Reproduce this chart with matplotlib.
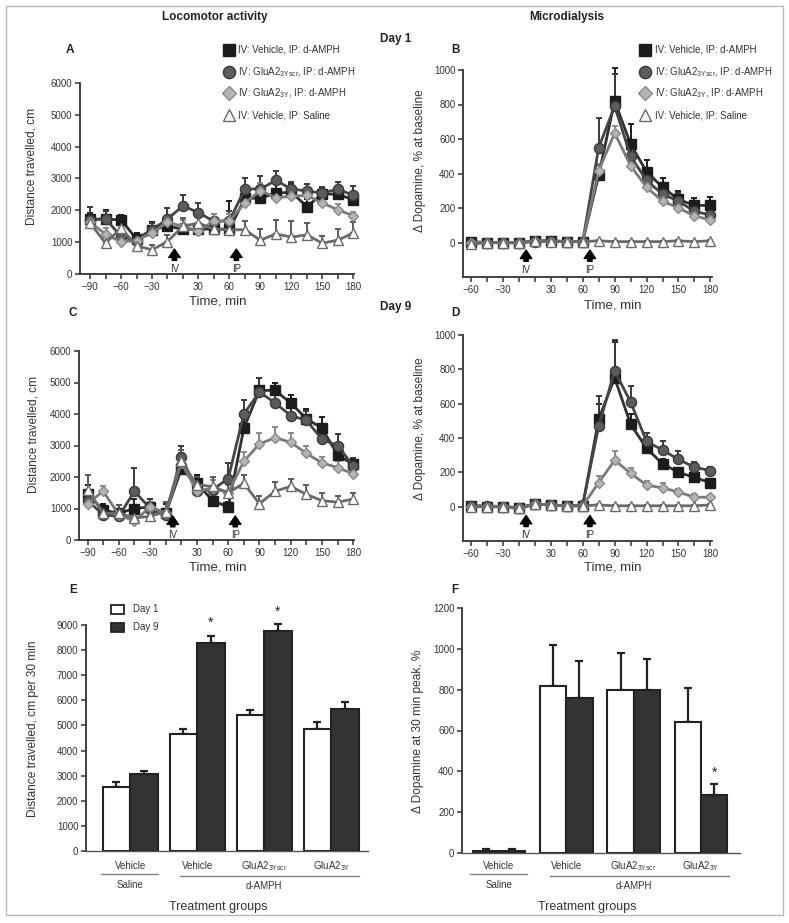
import matplotlib
matplotlib.use('Agg')
import matplotlib.pyplot as plt
import matplotlib.transforms as mtransforms
from matplotlib.patches import Rectangle
from matplotlib.lines import Line2D

plt.rcParams['font.family'] = ['Liberation Sans', 'DejaVu Sans']
plt.rcParams['mathtext.fontset'] = 'custom'
plt.rcParams['mathtext.rm'] = 'Liberation Sans'
plt.rcParams['mathtext.it'] = 'Liberation Sans'

# ---------------- data ----------------
times_loco = [-90, -75, -60, -45, -30, -15, 15, 30, 45, 60, 75, 90, 105, 120, 135, 150, 165, 180]
times_dial = [-60, -45, -30, -15, 15, 30, 45, 60, 75, 90, 105, 120, 135, 150, 165, 180]
loco_ticklabels = [-90, -60, -30, 30, 60, 90, 120, 150, 180]
dial_ticklabels = [-60, -30, 30, 60, 90, 120, 150, 180]

series_labels = ['IV: Vehicle, IP: d-AMPH',
                 r'IV: GluA2$_{\mathregular{3Yscr}}$, IP: d-AMPH',
                 r'IV: GluA2$_{\mathregular{3Y}}$, IP: d-AMPH',
                 'IV: Vehicle, IP: Saline']

# Panel A (Day 1 locomotion)
a_veh = [1725, 1725, 1700, 1100, 1390, 1500, 1410, 1400, 1420, 1400, 2380, 2380, 2540, 2570, 2120, 2510, 2510, 2330]
a_veh_err = [200, 300, 150, 200, 230, 250, 150, 200, 350, 900, 300, 300, 300, 250, 250, 200, 200, 200]
a_scr = [1700, 1735, 1180, 1050, 1390, 1725, 2140, 1930, 1650, 1670, 2670, 2670, 2940, 2670, 2610, 2540, 2670, 2470]
a_scr_err = [400, 250, 200, 150, 200, 350, 350, 300, 250, 300, 360, 420, 280, 230, 220, 200, 230, 280]
a_3y = [1630, 1250, 1010, 1050, 1290, 1620, 1500, 1340, 1670, 1670, 2230, 2620, 2400, 2440, 2470, 2230, 2020, 1830]
a_3y_err = [150, 200, 150, 100, 150, 200, 200, 150, 200, 200, 200, 250, 200, 150, 150, 150, 180, 120]
a_sal = [1600, 970, 1440, 890, 760, 1020, 1500, 1600, 1410, 1390, 1390, 1060, 1260, 1160, 1230, 970, 1060, 1290]
a_sal_err = [200, 200, 150, 150, 150, 200, 250, 200, 200, 300, 260, 350, 440, 490, 370, 230, 350, 330]

# Panel B (Day 1 dopamine)
b_veh = [5, 0, 0, 0, 10, 10, 5, 5, 390, 820, 570, 410, 320, 250, 215, 215]
b_veh_err = [5, 5, 5, 5, 5, 5, 5, 5, 60, 190, 115, 70, 55, 50, 45, 50]
b_scr = [0, 0, 0, 0, 5, 10, 5, 5, 550, 790, 500, 360, 280, 240, 180, 160]
b_scr_err = [5, 5, 5, 5, 5, 5, 5, 5, 170, 185, 80, 60, 50, 45, 40, 40]
b_3y = [0, 0, 0, 0, 10, 5, 5, 5, 415, 635, 445, 320, 240, 200, 155, 130]
b_3y_err = [5, 5, 5, 5, 5, 5, 5, 5, 40, 40, 40, 30, 25, 20, 20, 20]
b_sal = [-10, 0, 0, -5, 10, 5, 5, 5, 10, 5, 5, 5, 5, 10, 5, 10]
b_sal_err = [5] * 16

# Panel C (Day 9 locomotion)
c_veh = [1450, 950, 850, 1000, 1050, 850, 2250, 1800, 1250, 1050, 3550, 4750, 4750, 4350, 3850, 3550, 2700, 2400]
c_veh_err = [300, 200, 250, 300, 250, 300, 600, 250, 200, 150, 400, 400, 250, 250, 300, 350, 300, 200]
c_scr = [1250, 800, 750, 1550, 1000, 800, 2650, 1550, 1600, 1950, 4000, 4700, 4350, 3950, 3800, 3200, 3000, 2350]
c_scr_err = [250, 150, 200, 730, 300, 200, 350, 300, 300, 500, 450, 450, 250, 250, 300, 250, 350, 250]
c_3y = [1150, 1550, 800, 600, 1050, 850, 2450, 1550, 1650, 1500, 2500, 3050, 3250, 3100, 2750, 2450, 2300, 2100]
c_3y_err = [150, 150, 150, 150, 150, 150, 300, 250, 250, 250, 300, 350, 350, 300, 250, 200, 200, 150]
c_sal = [1600, 850, 850, 700, 750, 900, 2500, 1750, 1700, 1500, 1800, 1150, 1550, 1700, 1450, 1250, 1200, 1300]
c_sal_err = [450, 200, 250, 200, 200, 300, 350, 250, 300, 300, 250, 250, 300, 250, 300, 250, 200, 200]

# Panel D (Day 9 dopamine)
d_veh = [5, 0, 0, -5, 15, 10, 5, 5, 510, 750, 480, 340, 250, 200, 170, 140]
d_veh_err = [5, 5, 5, 5, 5, 5, 5, 5, 90, 210, 60, 40, 30, 25, 20, 20]
d_scr = [5, 5, 0, -10, 15, 10, 5, 10, 470, 790, 610, 380, 330, 275, 230, 210]
d_scr_err = [5, 5, 5, 5, 5, 5, 5, 5, 175, 180, 90, 50, 50, 50, 30, 20]
d_3y = [0, 0, 0, -10, 15, 10, 5, 5, 140, 270, 195, 125, 110, 85, 55, 55]
d_3y_err = [5, 5, 5, 5, 5, 5, 5, 5, 40, 55, 30, 25, 30, 15, 20, 15]
d_sal = [0, 0, 0, -10, 15, 10, 5, 5, 10, 5, 5, 5, 5, 5, 5, 10]
d_sal_err = [5] * 16

# Panels E, F
group_labels = ['Vehicle', 'Vehicle', r'GluA2$_{\mathregular{3Yscr}}$', r'GluA2$_{\mathregular{3Y}}$']
day_labels = ['Day 1', 'Day 9']
e_day1 = [2550, 4650, 5400, 4850]
e_day1_err = [180, 200, 200, 280]
e_day9 = [3050, 8300, 8750, 5650]
e_day9_err = [150, 250, 300, 280]
f_day1 = [12, 820, 800, 640]
f_day1_err = [6, 200, 180, 170]
f_day9 = [12, 760, 800, 285]
f_day9_err = [6, 180, 150, 55]

# ---------------- styles ----------------
styles = [
    dict(marker='s', mfc='#1c1c1c', mec='#1c1c1c', ms=6.8, color='#303030'),
    dict(marker='o', mfc='#5c5c5c', mec='#3a3a3a', ms=7.3, color='#454545'),
    dict(marker='D', mfc='#b4b4b4', mec='#8a8a8a', ms=5.4, color='#7a7a7a'),
    dict(marker='^', mfc='white', mec='#6a6a6a', ms=7.8, color='#6a6a6a'),
]
ecolors = ['#1c1c1c', '#3a3a3a', '#8a8a8a', '#5a5a5a']

W, H = 789, 923
fig = plt.figure(figsize=(W / 100, H / 100), dpi=100)


def rect(l, t, r, b):
    return [l / W, 1 - b / H, (r - l) / W, (b - t) / H]


def ftext(x, y, s, **kw):
    fig.text(x / W, 1 - y / H, s, **kw)


def style_axes(ax):
    for s in ['top', 'right']:
        ax.spines[s].set_visible(False)
    for s in ['left', 'bottom']:
        ax.spines[s].set_color('#333333')
        ax.spines[s].set_linewidth(1.3)
    ax.tick_params(direction='out', length=3.5, width=1.1, color='#333333',
                   labelsize=7, labelcolor='#333333', pad=2)


def line_panel(ax, times, ticklabels, data, errs, ylim, yticks, arrow_y):
    xs = list(range(len(times)))
    order = [3, 2, 0, 1]
    for k in order:
        ax.errorbar(xs, data[k], yerr=[[0] * len(xs), errs[k]], fmt='none',
                    ecolor=ecolors[k], elinewidth=1.4, capsize=2.5, capthick=1.4,
                    zorder=2 + k * 0.1, clip_on=False)
    for k in order:
        st = styles[k]
        ax.plot(xs, data[k], color=st['color'], lw=2.0, marker=st['marker'],
                mfc=st['mfc'], mec=st['mec'], ms=st['ms'], mew=1.0,
                zorder=3 + k * 0.1, clip_on=False)
    ax.set_ylim(*ylim)
    ax.set_yticks(yticks)
    ax.set_xticks(xs)
    ax.set_xticklabels([(str(t).replace('-', '\u2212') if t in ticklabels else '') for t in times])
    style_axes(ax)
    # arrows IV and IP
    iv_x = times.index(-15) + 0.45
    ip_x = times.index(60) + 0.45
    tip, tail, lab = arrow_y
    for xx, name in [(iv_x, 'IV'), (ip_x, 'IP')]:
        ax.annotate('', xy=(xx, tip), xytext=(xx, tail),
                    arrowprops=dict(arrowstyle='simple,head_length=0.55,head_width=0.75,tail_width=0.28',
                                    fc='black', ec='black', mutation_scale=11), zorder=6)
        ax.text(xx, lab, name, ha='center', va='center', fontsize=7, color='#333333')


# ---- Panel A
axA = fig.add_axes(rect(80, 83, 354, 274))
axA.set_xlim(-0.65, 17.05)
line_panel(axA, times_loco, loco_ticklabels, [a_veh, a_scr, a_3y, a_sal],
           [a_veh_err, a_scr_err, a_3y_err, a_sal_err], (0, 6000), range(0, 6001, 1000),
           (870, 340, 150))

# ---- Panel B
axB = fig.add_axes(rect(463, 70, 712, 277))
axB.set_xlim(-0.5, 15.1)
line_panel(axB, times_dial, dial_ticklabels, [b_veh, b_scr, b_3y, b_sal],
           [b_veh_err, b_scr_err, b_3y_err, b_sal_err], (-200, 1000), range(0, 1001, 200),
           (-28, -125, -162))

# ---- Panel C
axC = fig.add_axes(rect(79, 351, 354, 540))
axC.set_xlim(-0.55, 17.05)
line_panel(axC, times_loco, loco_ticklabels, [c_veh, c_scr, c_3y, c_sal],
           [c_veh_err, c_scr_err, c_3y_err, c_sal_err], (0, 6000), range(0, 6001, 1000),
           (850, 330, 150))

# ---- Panel D
axD = fig.add_axes(rect(463, 335, 712, 541))
axD.set_xlim(-0.5, 15.1)
line_panel(axD, times_dial, dial_ticklabels, [d_veh, d_scr, d_3y, d_sal],
           [d_veh_err, d_scr_err, d_3y_err, d_sal_err], (-200, 1000), range(0, 1001, 200),
           (-35, -132, -166))


# ---- Bar panels
def bar_panel(ax, day1, day1_err, day9, day9_err, ylim, yticks, width, day1_colors):
    xs = list(range(len(day1)))
    x1 = [x - width / 2 for x in xs]
    x9 = [x + width / 2 for x in xs]
    ax.errorbar(x1, day1, yerr=[[0] * len(xs), day1_err], fmt='none', ecolor='#222222',
                elinewidth=1.6, capsize=3, capthick=1.6, zorder=1, clip_on=False)
    ax.errorbar(x9, day9, yerr=[[0] * len(xs), day9_err], fmt='none', ecolor='#222222',
                elinewidth=1.6, capsize=3, capthick=1.6, zorder=1, clip_on=False)
    ax.bar(x1, day1, width=width, color=day1_colors, edgecolor='#222222', linewidth=1.5, zorder=2)
    ax.bar(x9, day9, width=width, color='#333333', edgecolor='#222222', linewidth=1.5, zorder=2)
    ax.set_ylim(*ylim)
    ax.set_yticks(yticks)
    ax.set_xticks([])
    style_axes(ax)
    ax.spines['bottom'].set_linewidth(1.0)
    ax.spines['bottom'].set_color('#555555')


axE = fig.add_axes(rect(86, 625, 368, 851))
axE.set_xlim(-0.66, 3.55)
bar_panel(axE, e_day1, e_day1_err, e_day9, e_day9_err, (0, 9000), range(0, 9001, 1000), 0.41,
          ['white'] * 4)
axE.text(1 + 0.205, 9080, '*', ha='center', va='center', fontsize=10, color='#222222')
axE.text(2 + 0.205, 9520, '*', ha='center', va='center', fontsize=10, color='#222222')

axF = fig.add_axes(rect(462, 608, 740, 853))
axF.set_xlim(-0.55, 3.58)
bar_panel(axF, f_day1, f_day1_err, f_day9, f_day9_err, (0, 1200), range(0, 1201, 200), 0.39,
          ['#808080', 'white', 'white', 'white'])
axF.text(3 + 0.195, 392, '*', ha='center', va='center', fontsize=10, color='#222222')

for ax in (axE, axF):
    tr = mtransforms.blended_transform_factory(ax.transData, fig.transFigure)
    for i, g in enumerate(group_labels):
        ax.text(i, 1 - 866 / H, g, transform=tr, ha='center', va='center', fontsize=7, color='#333333')
    ax.plot([-0.43, 0.42], [1 - 874 / H] * 2, transform=tr, color='#808080', lw=1, clip_on=False)
    ax.plot([0.75, 3.42], [1 - 876 / H] * 2, transform=tr, color='#808080', lw=1, clip_on=False)
    ax.text(0, 1 - 885 / H, 'Saline', transform=tr, ha='center', va='center', fontsize=7, color='#333333')
    ax.text(2.0, 1 - 886 / H, 'd-AMPH', transform=tr, ha='center', va='center', fontsize=7, color='#333333')

# ---- legends for A and B
for lx, tx in [(229, 238), (645, 655)]:
    for k, ly in enumerate([50, 72, 93, 115]):
        st = styles[k]
        fig.add_artist(Line2D([lx / W], [1 - ly / H], transform=fig.transFigure, marker=st['marker'],
                              mfc=st['mfc'], mec=st['mec'], ms=st['ms'] + 1.5, mew=1.0, ls='none'))
        ftext(tx, ly, series_labels[k], ha='left', va='center', fontsize=7, color='#333333')

# ---- legend for E
for ly, fc, lab in [(609, 'white', day_labels[0]), (627, '#333333', day_labels[1])]:
    fig.add_artist(Rectangle(((111) / W, 1 - (ly + 4.5) / H), 13 / W, 9 / H, transform=fig.transFigure,
                             fc=fc, ec='#222222', lw=1.3))
    ftext(133, ly, lab, ha='left', va='center', fontsize=7, color='#333333')

# ---- axis labels & titles
ylab_kw = dict(fontsize=8.6, color='#333333', ha='center', va='center', rotation=90)
lab_kw = dict(fontsize=9.5, color='#333333', ha='center', va='center')
ftext(31, 166, 'Distance travelled, cm', **ylab_kw)
ftext(33, 434, 'Distance travelled, cm', **ylab_kw)
ftext(420, 161, '\u0394 Dopamine, % at baseline', **ylab_kw)
ftext(420, 429, '\u0394 Dopamine, % at baseline', **ylab_kw)
ftext(33, 729, 'Distance travelled, cm per 30 min', **ylab_kw)
ftext(418, 731, '\u0394 Dopamine at 30 min peak, %', **ylab_kw)
ftext(218, 302, 'Time, min', **lab_kw)
ftext(613, 305, 'Time, min', **lab_kw)
ftext(218, 567, 'Time, min', **lab_kw)
ftext(613, 567, 'Time, min', **lab_kw)
ftext(218, 907, 'Treatment groups', fontsize=9, color='#333333', ha='center', va='center')
ftext(587, 907, 'Treatment groups', fontsize=9, color='#333333', ha='center', va='center')

bold_kw = dict(fontsize=8.5, fontweight='bold', color='#222222', ha='center', va='center')
ftext(215, 17, 'Locomotor activity', **bold_kw)
ftext(567, 17, 'Microdialysis', **bold_kw)
ftext(396, 39, 'Day 1', **bold_kw)
ftext(396, 307, 'Day 9', **bold_kw)
for letter, x, y in [('A', 70, 50), ('B', 455, 50), ('C', 73, 313), ('D', 455, 313), ('E', 73, 590), ('F', 455, 590)]:
    ftext(x, y, letter, **bold_kw)

# ---- outer frame
fig.add_artist(Rectangle((6 / W, 1 - 915 / H), 777 / W, 909 / H, transform=fig.transFigure,
                         fill=False, ec='#b8b8b8', lw=1.0))

fig.savefig('out.png', dpi=100)
